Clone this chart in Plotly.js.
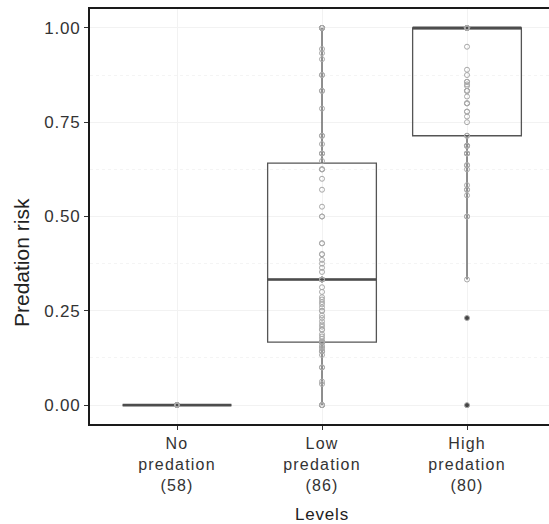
<!DOCTYPE html>
<html><head><meta charset="utf-8">
<script src="https://cdn.plot.ly/plotly-3.0.1.min.js"></script>
<style>html,body{margin:0;padding:0;overflow:hidden;background:#fff}#chart{width:560px;height:524px}
.ytick text,.g-xtitle text{letter-spacing:0.8px}
.xtick text{letter-spacing:1.2px}</style>
</head><body><div id="chart"></div>
<script>
const categories = ['No<br>predation<br>(58)', 'Low<br>predation<br>(86)', 'High<br>predation<br>(80)'];

const noPredation = [0,0,0,0,0,0,0,0,0,0,0,0,0,0,0,0,0,0,0,0,0,0,0,0,0,0,0,0,0,
                     0,0,0,0,0,0,0,0,0,0,0,0,0,0,0,0,0,0,0,0,0,0,0,0,0,0,0,0,0];

const lowPredation = [0,0,0,0,0.056,0.0625,0.1,0.1,0.133,0.143,0.143,0.143,0.15,0.154,0.158,
  0.167,0.167,0.167,0.167,0.167,0.167,0.167,0.167,
  0.176,0.182,0.188,0.2,0.2,0.208,0.214,0.222,0.231,0.238,0.25,0.25,0.259,0.267,0.273,0.28,0.286,0.3,0.3125,
  0.333,0.333,0.333,0.333,0.333,0.333,
  0.353,0.364,0.375,0.385,0.4,0.4,0.429,0.429,0.5,0.5,0.526,0.571,0.6,0.625,0.625,0.625,
  0.647,0.667,0.667,0.667,0.692,0.714,0.714,0.786,0.833,0.833,0.875,0.875,0.917,0.933,0.944,
  1,1,1,1,1,1,1];

const highPredation = [0,0.231,0.333,0.5,0.5,0.556,0.571,0.571,0.583,0.625,0.636,0.636,
  0.667,0.667,0.667,0.667,0.6875,0.6875,0.6875,0.6875,
  0.714,0.714,0.75,0.765,0.778,0.778,0.8,0.8,0.8,0.818,0.833,0.833,0.833,0.846,0.85,0.857,0.857,0.875,0.889,0.95,
  1,1,1,1,1,1,1,1,1,1,1,1,1,1,1,1,1,1,1,1,1,1,1,1,1,1,1,1,1,1,1,1,1,1,1,1,1,1,1,1,1];

const groups = [noPredation, lowPredation, highPredation];

function quant(s, p){
  const h = (s.length - 1) * p, lo = Math.floor(h), hi = Math.min(lo + 1, s.length - 1);
  return s[lo] + (h - lo) * (s[hi] - s[lo]);
}
const stats = groups.map(g => {
  const s = g.slice().sort((a,b)=>a-b);
  const q1 = quant(s,0.25), med = quant(s,0.5), q3 = quant(s,0.75), iqr = q3 - q1;
  const lf = s.filter(v => v >= q1 - 1.5*iqr)[0];
  const inUp = s.filter(v => v <= q3 + 1.5*iqr);
  const uf = inUp[inUp.length-1];
  const out = s.filter(v => v < q1 - 1.5*iqr || v > q3 + 1.5*iqr);
  return {q1, med, q3, lf, uf, out};
});

const boxTrace = {
  type:'box', x: categories,
  q1: stats.map(s=>s.q1), median: stats.map(s=>s.med), q3: stats.map(s=>s.q3),
  lowerfence: stats.map(s=>s.lf), upperfence: stats.map(s=>s.uf),
  boxpoints:false, width:0.75, whiskerwidth:0,
  line:{color:'#555555', width:1.3}, fillcolor:'rgba(255,255,255,0)', hoverinfo:'skip'
};
const medTrace = {
  type:'box', x: categories,
  q1: stats.map(s=>s.med), median: stats.map(s=>s.med), q3: stats.map(s=>s.med),
  lowerfence: stats.map(s=>s.med), upperfence: stats.map(s=>s.med),
  boxpoints:false, width:0.75,
  line:{color:'#4d4d4d', width:2.6}, fillcolor:'rgba(255,255,255,0)', hoverinfo:'skip'
};
const outX = [], outY = [];
stats.forEach((s,i)=> s.out.forEach(v=>{ outX.push(categories[i]); outY.push(v); }));
const outTrace = {
  type:'scatter', mode:'markers', x: outX, y: outY,
  marker:{color:'#444444', size:5}, hoverinfo:'skip'
};
const ptX = [], ptY = [];
groups.forEach((g,i)=> g.forEach(v=>{ ptX.push(categories[i]); ptY.push(v); }));
const ptTrace = {
  type:'scatter', mode:'markers', x: ptX, y: ptY,
  marker:{symbol:'circle-open', color:'#a8a8a8', size:5, line:{width:1}}, hoverinfo:'skip'
};

const fam = '"Liberation Sans", Arial, sans-serif';
const layout = {
  width:560, height:524,
  margin:{l:90, r:6, t:9, b:100},
  paper_bgcolor:'#fff', plot_bgcolor:'#fff',
  showlegend:false, font:{family:fam, size:17, color:'#333'},
  xaxis:{
    type:'category', range:[-0.6, 2.6], categoryorder:'array', categoryarray: categories,
    showline:true, linecolor:'#1a1a1a', linewidth:2, mirror:true,
    ticks:'outside', ticklen:4, tickcolor:'#333', tickwidth:1,
    showgrid:true, gridcolor:'#f2f2f2', gridwidth:1, zeroline:false,
    tickfont:{family:fam, size:16, color:'#333'},
    title:{text:'Levels', font:{family:fam, size:17, color:'#222'}, standoff:15}
  },
  yaxis:{
    range:[-0.05, 1.05], dtick:0.25, tick0:0, tickformat:'.2f',
    showline:true, linecolor:'#1a1a1a', linewidth:2, mirror:true,
    ticks:'outside', ticklen:4, tickcolor:'#333', tickwidth:1,
    showgrid:true, gridcolor:'#f2f2f2', gridwidth:1, zeroline:false,
    minor:{dtick:0.125, showgrid:true, gridcolor:'#f4f4f4', griddash:'dot', gridwidth:1},
    tickfont:{family:fam, size:17, color:'#333'}
  },
  annotations:[{
    text:'Predation risk', textangle:-90, showarrow:false,
    xref:'paper', yref:'paper', x:-0.149, y:0.39, xanchor:'center', yanchor:'middle',
    font:{family:fam, size:21, color:'#222'}
  }]
};
Plotly.newPlot('chart', [boxTrace, medTrace, outTrace, ptTrace], layout, {staticPlot:true});
</script></body></html>
